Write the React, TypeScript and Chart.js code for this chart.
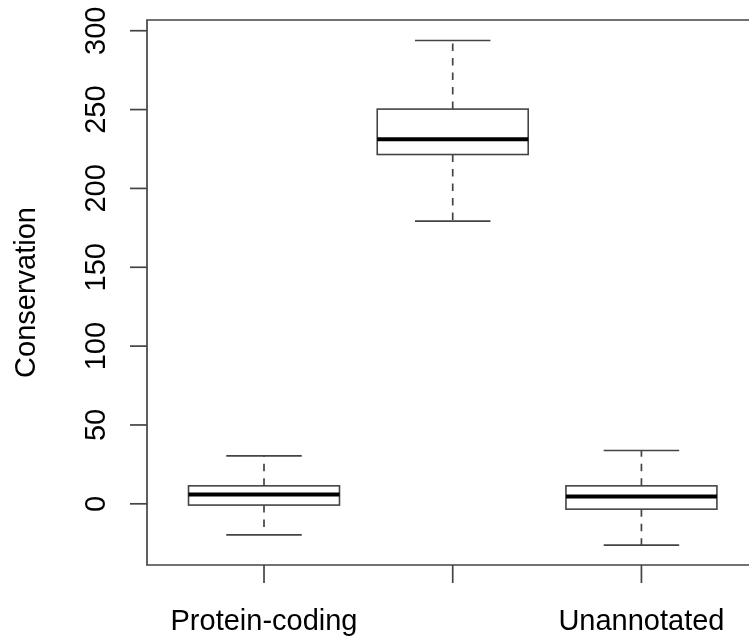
import React, { useEffect, useRef } from "react";
import { Chart, registerables } from "chart.js";

Chart.register(...registerables);

const categories = ["Protein-coding", "", "Unannotated"];
const lowerWhisker = [-19.7, 179.3, -26.2];
const q1 = [-0.8, 221.5, -3.4];
const median = [5.9, 231.2, 4.6];
const q3 = [11.4, 250.3, 11.4];
const upperWhisker = [30.4, 293.8, 33.8];
const yTicks = [0, 50, 100, 150, 200, 250, 300];
const yTitle = "Conservation";

const FONT = '"Liberation Sans", Arial, Helvetica, sans-serif';
const LINE = "#444444";

const boxPlugin = {
  id: "rbox",
  afterDatasetsDraw(chart: any) {
    const ctx = chart.ctx;
    const xs = chart.scales.x;
    const ys = chart.scales.y;
    const area = chart.chartArea;
    const unit = xs.getPixelForValue(2) - xs.getPixelForValue(1);
    const boxW = unit * 0.8;
    const capW = boxW * 0.5;
    ctx.save();
    for (let i = 0; i < categories.length; i++) {
      const cx = xs.getPixelForValue(i + 1);
      // whiskers
      ctx.strokeStyle = LINE;
      ctx.lineWidth = 1.7;
      ctx.setLineDash([7.5, 7]);
      ctx.beginPath();
      ctx.moveTo(cx, ys.getPixelForValue(q3[i]));
      ctx.lineTo(cx, ys.getPixelForValue(upperWhisker[i]));
      ctx.moveTo(cx, ys.getPixelForValue(q1[i]));
      ctx.lineTo(cx, ys.getPixelForValue(lowerWhisker[i]));
      ctx.stroke();
      ctx.setLineDash([]);
      // caps
      ctx.beginPath();
      const yu = ys.getPixelForValue(upperWhisker[i]);
      const yl = ys.getPixelForValue(lowerWhisker[i]);
      ctx.moveTo(cx - capW / 2, yu);
      ctx.lineTo(cx + capW / 2, yu);
      ctx.moveTo(cx - capW / 2, yl);
      ctx.lineTo(cx + capW / 2, yl);
      ctx.stroke();
      // box
      const yt = ys.getPixelForValue(q3[i]);
      const yb = ys.getPixelForValue(q1[i]);
      ctx.fillStyle = "#ffffff";
      ctx.fillRect(cx - boxW / 2, yt, boxW, yb - yt);
      ctx.lineWidth = 1.6;
      ctx.strokeStyle = LINE;
      ctx.strokeRect(cx - boxW / 2, yt, boxW, yb - yt);
      // median
      const ym = ys.getPixelForValue(median[i]);
      ctx.strokeStyle = "#000000";
      ctx.lineWidth = 4;
      ctx.beginPath();
      ctx.moveTo(cx - boxW / 2, ym);
      ctx.lineTo(cx + boxW / 2, ym);
      ctx.stroke();
    }
    // frame (left, top, bottom; right edge lies beyond the canvas)
    ctx.strokeStyle = LINE;
    ctx.lineWidth = 1.7;
    ctx.beginPath();
    ctx.moveTo(area.right + 5, area.top);
    ctx.lineTo(area.left, area.top);
    ctx.lineTo(area.left, area.bottom);
    ctx.lineTo(area.right + 5, area.bottom);
    ctx.stroke();
    // y ticks + labels
    ctx.fillStyle = "#000000";
    ctx.font = `29px ${FONT}`;
    for (const v of yTicks) {
      const py = ys.getPixelForValue(v);
      ctx.beginPath();
      ctx.moveTo(area.left - 17, py);
      ctx.lineTo(area.left, py);
      ctx.stroke();
      ctx.save();
      ctx.translate(area.left - 42, py);
      ctx.rotate(-Math.PI / 2);
      ctx.textAlign = "center";
      ctx.textBaseline = "alphabetic";
      ctx.fillText(String(v), 0, 0);
      ctx.restore();
    }
    // x ticks + labels
    for (let i = 0; i < categories.length; i++) {
      const px = xs.getPixelForValue(i + 1);
      ctx.beginPath();
      ctx.moveTo(px, area.bottom);
      ctx.lineTo(px, area.bottom + 18);
      ctx.stroke();
      ctx.textAlign = "center";
      ctx.textBaseline = "alphabetic";
      ctx.fillText(categories[i], px, 630);
    }
    // y title
    ctx.save();
    ctx.translate(35, (area.top + area.bottom) / 2);
    ctx.rotate(-Math.PI / 2);
    ctx.textAlign = "center";
    ctx.fillText(yTitle, 0, 0);
    ctx.restore();
    ctx.restore();
  },
};

export default function App() {
  const ref = useRef<HTMLCanvasElement | null>(null);
  useEffect(() => {
    if (!ref.current) return;
    const chart = new Chart(ref.current, {
      type: "scatter",
      data: {
        datasets: [
          {
            data: median.map((m, i) => ({ x: i + 1, y: m })),
            pointRadius: 0,
            showLine: false,
          },
        ],
      },
      options: {
        responsive: false,
        animation: false,
        devicePixelRatio: 1,
        layout: { padding: { left: 147, top: 20, right: 0, bottom: 73 } },
        plugins: { legend: { display: false }, tooltip: { enabled: false } },
        scales: {
          x: { type: "linear", min: 0.38, max: 3.57, display: false },
          y: { type: "linear", min: -38.8, max: 306.8, display: false },
        },
      },
      plugins: [boxPlugin],
    });
    return () => chart.destroy();
  }, []);
  return (
    <div style={{ position: "fixed", left: 0, top: 0, width: 749, height: 638, background: "#fff" }}>
      <canvas ref={ref} width={749} height={638} />
    </div>
  );
}
